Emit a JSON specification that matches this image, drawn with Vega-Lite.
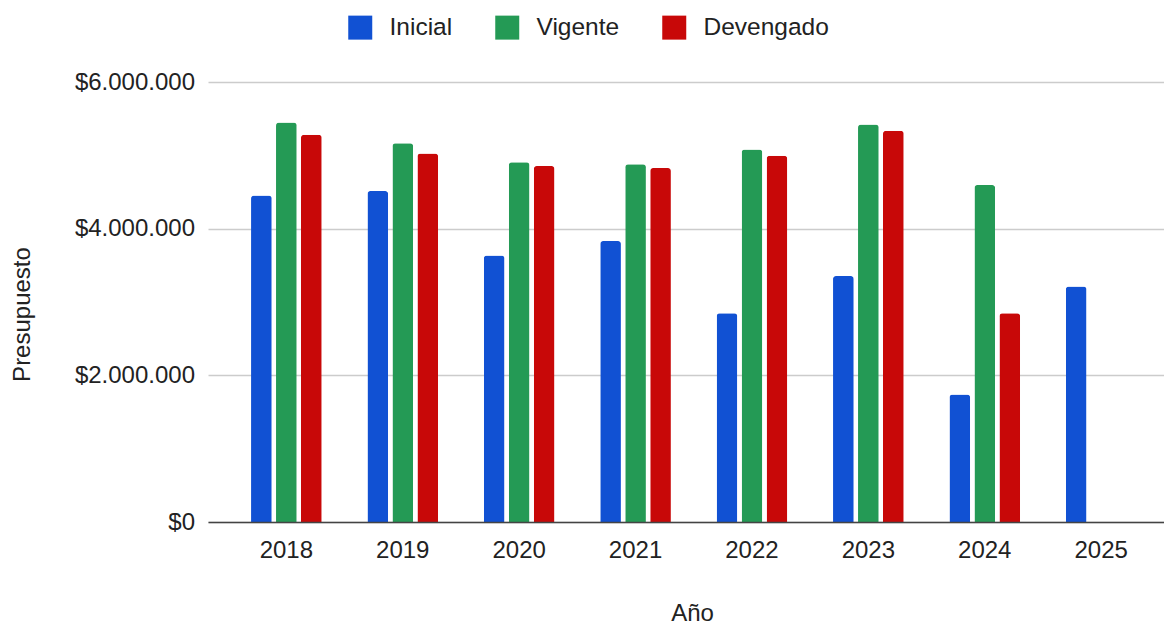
{
  "$schema": "https://vega.github.io/schema/vega-lite/v6.json",
  "width": 956,
  "height": 440,
  "autosize": "none",
  "padding": {"left": 208, "top": 82, "right": 0, "bottom": 103},
  "background": "white",
  "config": {
    "locale": {"number": {"decimal": ",", "thousands": ".", "grouping": [3], "currency": ["$", ""]}},
    "view": {"stroke": null},
    "font": "Liberation Sans"
  },
  "data": {
    "values": [
      {"anio": "2018", "serie": "Inicial", "valor": 4452000},
      {"anio": "2018", "serie": "Vigente", "valor": 5447000},
      {"anio": "2018", "serie": "Devengado", "valor": 5279000},
      {"anio": "2019", "serie": "Inicial", "valor": 4512000},
      {"anio": "2019", "serie": "Vigente", "valor": 5166000},
      {"anio": "2019", "serie": "Devengado", "valor": 5025000},
      {"anio": "2020", "serie": "Inicial", "valor": 3635000},
      {"anio": "2020", "serie": "Vigente", "valor": 4907000},
      {"anio": "2020", "serie": "Devengado", "valor": 4853000},
      {"anio": "2021", "serie": "Inicial", "valor": 3831000},
      {"anio": "2021", "serie": "Vigente", "valor": 4880000},
      {"anio": "2021", "serie": "Devengado", "valor": 4826000},
      {"anio": "2022", "serie": "Inicial", "valor": 2845000},
      {"anio": "2022", "serie": "Vigente", "valor": 5079000},
      {"anio": "2022", "serie": "Devengado", "valor": 4993000},
      {"anio": "2023", "serie": "Inicial", "valor": 3354000},
      {"anio": "2023", "serie": "Vigente", "valor": 5420000},
      {"anio": "2023", "serie": "Devengado", "valor": 5334000},
      {"anio": "2024", "serie": "Inicial", "valor": 1737000},
      {"anio": "2024", "serie": "Vigente", "valor": 4594000},
      {"anio": "2024", "serie": "Devengado", "valor": 2845000},
      {"anio": "2025", "serie": "Inicial", "valor": 3213000}
    ]
  },
  "mark": {"type": "bar", "cornerRadiusTopLeft": 3, "cornerRadiusTopRight": 3},
  "encoding": {
    "x": {
      "field": "anio",
      "type": "ordinal",
      "scale": {"paddingInner": 0.393, "paddingOuter": 0.303, "align": 0.61},
      "axis": {
        "title": "Año",
        "labelAngle": 0,
        "labelFontSize": 24,
        "labelColor": "#222222",
        "labelPadding": 16,
        "ticks": false,
        "tickSize": 0,
        "domainColor": "#444444",
        "domainWidth": 1.5,
        "zindex": 1,
        "titleFontSize": 24,
        "titleFontWeight": "normal",
        "titleColor": "#222222",
        "titleX": 484,
        "titleY": 98,
        "titleBaseline": "alphabetic",
        "titleAlign": "center"
      }
    },
    "xOffset": {
      "field": "serie",
      "sort": ["Inicial", "Vigente", "Devengado"],
      "scale": {"paddingInner": 0.172, "paddingOuter": 0}
    },
    "y": {
      "field": "valor",
      "type": "quantitative",
      "scale": {"domain": [0, 6000000], "nice": false},
      "axis": {
        "title": "Presupuesto",
        "values": [0, 2000000, 4000000, 6000000],
        "format": "$,.0f",
        "grid": true,
        "gridColor": "#cccccc",
        "gridWidth": 1.5,
        "domain": false,
        "ticks": false,
        "tickSize": 0,
        "labelPadding": 13.5,
        "labelFontSize": 24,
        "labelColor": "#222222",
        "titleFontSize": 24,
        "titleFontWeight": "normal",
        "titleColor": "#222222",
        "titleAngle": -90,
        "titleX": -179,
        "titleY": 232,
        "titleBaseline": "alphabetic",
        "titleAlign": "center"
      }
    },
    "color": {
      "field": "serie",
      "type": "nominal",
      "sort": ["Inicial", "Vigente", "Devengado"],
      "scale": {"domain": ["Inicial", "Vigente", "Devengado"], "range": ["#1151d3", "#249a55", "#c80808"]},
      "legend": {
        "orient": "none",
        "legendX": 140,
        "legendY": -67,
        "direction": "horizontal",
        "title": null,
        "symbolType": "square",
        "symbolSize": 576,
        "symbolStrokeWidth": 0,
        "labelFontSize": 24.5,
        "labelColor": "#222222",
        "labelOffset": 17,
        "columnPadding": 42,
        "padding": 0
      }
    }
  }
}
